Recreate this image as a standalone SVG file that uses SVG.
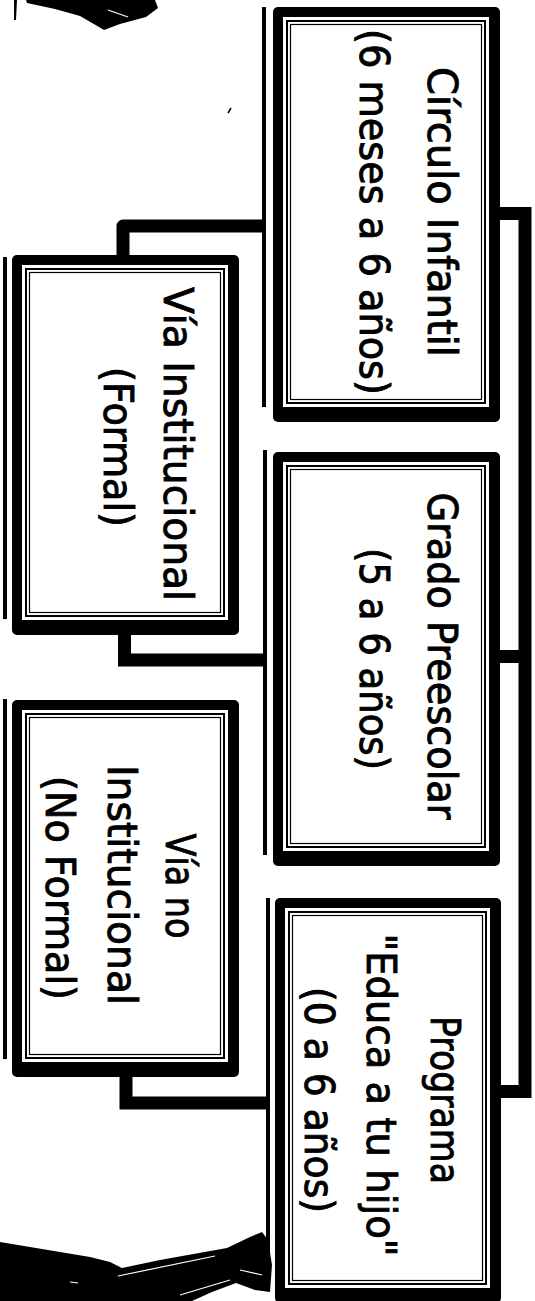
<svg xmlns="http://www.w3.org/2000/svg" width="535" height="1301" viewBox="0 0 535 1301">
<style>
.bg{fill:#fff}
.ink{fill:#000}
.hole{fill:#fff}
.la{fill:none;stroke:#000;stroke-width:2}
.lb{fill:none;stroke:#000;stroke-width:1.2}
.con{fill:none;stroke:#000;stroke-width:13}
.t{font-family:"DejaVu Sans","Liberation Sans",sans-serif;font-size:40px;fill:#000;stroke:#000;stroke-width:0.9;text-anchor:middle}
</style>
<rect class="bg" x="0" y="0" width="535" height="1301"/>

<g id="decor">
<path class="ink" d="M26 0 H155 L158 8 L146 17 L120 24 L104 30 L99 27 L80 16 L55 9 L27 3 Z"/>
<path d="M108 10 L128 17" stroke="#fff" stroke-width="1.2"/>
<path d="M14 0 L17 0 L16 20 L14 20 Z" class="ink"/>
<path d="M228 113 L231 108" stroke="#000" stroke-width="1.5"/>
<circle class="ink" cx="478" cy="549" r="1.2"/>
<circle class="ink" cx="193" cy="971" r="1.3"/>
<path class="ink" d="M0 1242 L90 1257 L110 1262 L122 1268 L160 1260 L227 1248 L250 1237 L262 1232 L268 1240 L272 1265 L270 1292 L255 1290 L236 1283 L212 1292 L192 1301 L0 1301 Z"/>
<path d="M118 1276 L215 1256 M70 1282 L78 1283 M180 1295 L230 1280 M240 1270 L262 1275" stroke="#fff" stroke-width="1.2" fill="none"/>
</g>

<g id="connectors">
<path class="con" d="M500 213.5 H525 V1091.5 H501"/>
<path class="con" d="M500 656.5 H525"/>
<path class="con" d="M123 256 V226 H264" stroke-linejoin="round"/>
<path class="con" d="M124.5 634 V660 H265"/>
<path class="con" d="M126 1076 V1103 H270"/>
</g>

<g id="circulo">
<rect class="ink" x="262" y="7" width="4" height="400"/>
<rect class="ink" x="273" y="7" width="227" height="415" rx="5"/>
<rect class="hole" x="283" y="17" width="206" height="390"/>
<rect class="la" x="287" y="21" width="198" height="382"/>
<rect class="lb" x="290.5" y="24.5" width="191" height="375"/>
<text class="t" transform="translate(428,212) rotate(90)" textLength="290" lengthAdjust="spacingAndGlyphs">Círculo Infantil</text>
<text class="t" transform="translate(360,212) rotate(90)" textLength="366" lengthAdjust="spacingAndGlyphs">(6 meses a 6 años)</text>
</g>

<g id="grado">
<rect class="ink" x="263" y="450" width="4" height="405"/>
<rect class="ink" x="273" y="452" width="227" height="414" rx="5"/>
<rect class="hole" x="283" y="462" width="206" height="389"/>
<rect class="la" x="287" y="466" width="198" height="381"/>
<rect class="lb" x="290.5" y="469.5" width="191" height="374"/>
<text class="t" transform="translate(428,656) rotate(90)" textLength="327" lengthAdjust="spacingAndGlyphs">Grado Preescolar</text>
<text class="t" transform="translate(360,659) rotate(90)" textLength="222" lengthAdjust="spacingAndGlyphs">(5 a 6 años)</text>
</g>

<g id="programa">
<rect class="ink" x="266" y="898" width="4" height="393"/>
<rect class="ink" x="275" y="898" width="226" height="405" rx="5"/>
<rect class="hole" x="285" y="908" width="205" height="380"/>
<rect class="la" x="289" y="912" width="197" height="372"/>
<rect class="lb" x="292.5" y="915.5" width="190" height="365"/>
<text class="t" transform="translate(431,1100) rotate(90)" textLength="168" lengthAdjust="spacingAndGlyphs">Programa</text>
<text class="t" transform="translate(367,1095) rotate(90)" textLength="323" lengthAdjust="spacingAndGlyphs">"Educa a tu hijo"</text>
<text class="t" transform="translate(305,1100) rotate(90)" textLength="226" lengthAdjust="spacingAndGlyphs">(0 a 6 años)</text>
</g>

<g id="via-institucional">
<rect class="ink" x="3" y="257" width="4" height="362"/>
<rect class="ink" x="12" y="255" width="227" height="380" rx="5"/>
<rect class="hole" x="22" y="265" width="206" height="355"/>
<rect class="la" x="26" y="269" width="198" height="347"/>
<rect class="lb" x="29.5" y="272.5" width="191" height="340"/>
<text class="t" transform="translate(164,444) rotate(90)" textLength="314" lengthAdjust="spacingAndGlyphs">Vía Institucional</text>
<text class="t" transform="translate(104,447) rotate(90)" textLength="160" lengthAdjust="spacingAndGlyphs">(Formal)</text>
</g>

<g id="via-no-institucional">
<rect class="ink" x="3" y="699" width="4" height="360"/>
<rect class="ink" x="12" y="700" width="227" height="377" rx="5"/>
<rect class="hole" x="22" y="710" width="206" height="352"/>
<rect class="la" x="26" y="714" width="198" height="344"/>
<rect class="lb" x="29.5" y="717.5" width="191" height="337"/>
<text class="t" transform="translate(166,886) rotate(90)" textLength="105" lengthAdjust="spacingAndGlyphs">Vía no</text>
<text class="t" transform="translate(108,885) rotate(90)" textLength="240" lengthAdjust="spacingAndGlyphs">Institucional</text>
<text class="t" transform="translate(46,888) rotate(90)" textLength="224" lengthAdjust="spacingAndGlyphs">(No Formal)</text>
</g>
</svg>
